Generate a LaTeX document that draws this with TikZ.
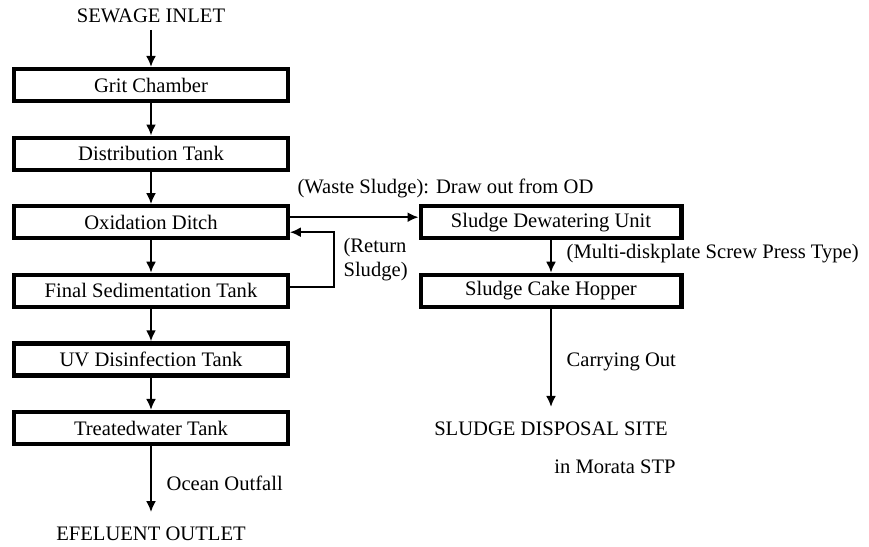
\documentclass[tikz,border=0pt]{standalone}
\usepackage{fontspec}
\setmainfont{Liberation Serif}
\usetikzlibrary{arrows.meta, positioning}

\begin{document}
\begin{tikzpicture}[
    node distance=16.2pt,
    every node/.style={font=\fontsize{10.3}{11.8}\selectfont},
    unit/.style={rectangle, draw, line width=2.1pt, minimum width=136.8pt, minimum height=16pt, inner sep=0pt, align=center},
    sideunit/.style={unit, minimum width=130.4pt},
    arrow/.style={-{Latex[length=5.5pt, width=5pt]}, line width=1pt}
]
\useasboundingbox (0,0) rectangle (434.5pt,-273.5pt);
\node[unit] (grit) at (75.5pt,-42.5pt) {Grit Chamber};
\node[unit, below=of grit] (dist) {Distribution Tank};
\node[unit, below=of dist] (oxid) {Oxidation Ditch};
\node[unit, below=of oxid] (final) {Final Sedimentation Tank};
\node[unit, below=of final] (uv) {UV Disinfection Tank};
\node[unit, below=of uv] (treated) {Treatedwater Tank};
\node[sideunit, right=64.3pt of oxid] (dewater) {Sludge Dewatering Unit};
\node[sideunit, below=of dewater] (hopper) {Sludge Cake Hopper};
\node[above=18.5pt of grit] (inlet) {SEWAGE INLET};
\node[below=37pt of treated] (outlet) {EFELUENT OUTLET};
\node[below=53pt of hopper] (site) {SLUDGE DISPOSAL SITE};
\node[below=5pt of site, xshift=32pt] (morata) {in Morata STP};
\draw[arrow] (inlet) -- (grit);
\draw[arrow] (grit) -- (dist);
\draw[arrow] (dist) -- (oxid);
\draw[arrow] (oxid) -- (final);
\draw[arrow] (final) -- (uv);
\draw[arrow] (uv) -- (treated);
\draw[arrow, shorten >=4pt] (treated) -- node[right=4pt] {Ocean Outfall} (outlet);
\draw[arrow] ([yshift=2.5pt]oxid.east) -- node[above right=6pt and 0pt, pos=0] {(Waste Sludge): Draw out from OD} ([yshift=2.5pt]dewater.west);
\draw[arrow] ([yshift=2pt]final.east) -- ++(22pt,0) |- node[pos=0.25, right=1pt, align=left] {(Return\\Sludge)} ([yshift=-5pt]oxid.east);
\draw[arrow] (dewater) -- node[right=4pt, pos=0.4] {(Multi-diskplate Screw Press Type)} (hopper);
\draw[arrow, shorten >=4pt] (hopper) -- node[right=4pt] {Carrying Out} (site);
\end{tikzpicture}
\end{document}
